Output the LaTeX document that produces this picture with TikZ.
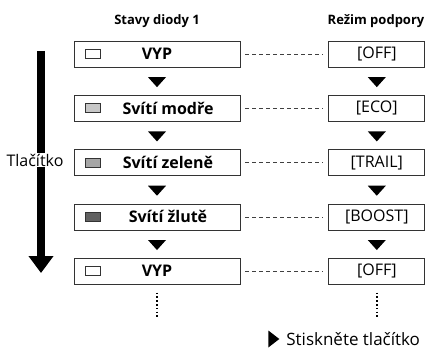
\documentclass[tikz,border=0pt]{standalone}
\usepackage{fontspec}
\setmainfont{Open Sans}
\usepackage{tikz}
\usetikzlibrary{shapes.geometric, arrows.meta, positioning}

\begin{document}
\begin{tikzpicture}[
  x=1pt, y=1pt,
  node distance=27.5pt and 88pt,
  statebox/.style={rectangle, draw=black!80, line width=0.8pt,
                   minimum width=166pt, minimum height=26pt, inner sep=0pt,
                   font=\fontsize{16}{18}\selectfont\bfseries},
  modebox/.style={statebox, minimum width=96pt,
                  font=\fontsize{16}{18}\selectfont},
  head/.style={font=\fontsize{13}{15}\selectfont\bfseries},
  led/.style={rectangle, draw=black!80, line width=0.7pt,
              minimum width=15pt, minimum height=9pt, inner sep=0pt},
  tri/.style={isosceles triangle, isosceles triangle stretches,
              shape border rotate=-90, fill=black, inner sep=0pt,
              minimum width=18pt, minimum height=10pt},
  link/.style={draw=black!75, line width=0.7pt, dash pattern=on 4pt off 3pt},
  more/.style={line width=2.2pt, dash pattern=on 1.6pt off 2.2pt}
]
\useasboundingbox (0,0) rectangle (426,-353);

% column heads
\node[head] (hl) at (157,-21) {Stavy diody 1};
\node[head] (hr) at (376,-21) {Režim podpory};

% led states
\node[statebox] (l1) at (157,-54) {VYP};
\node[statebox, below=of l1] (l2) {\hspace*{22pt}Svítí modře};
\node[statebox, below=of l2] (l3) {\hspace*{22pt}Svítí zeleně};
\node[statebox, below=of l3] (l4) {\hspace*{22pt}Svítí žlutě};
\node[statebox, below=of l4] (l5) {VYP};

\node[led, fill=white]    (s1) at ([xshift=19pt]l1.west) {};
\node[led, fill=black!22] (s2) at ([xshift=19pt]l2.west) {};
\node[led, fill=black!35] (s3) at ([xshift=19pt]l3.west) {};
\node[led, fill=black!62] (s4) at ([xshift=19pt]l4.west) {};
\node[led, fill=white]    (s5) at ([xshift=19pt]l5.west) {};

% assist modes
\node[modebox, right=of l1] (r1) {[OFF]};
\node[modebox, below=of r1] (r2) {[ECO]};
\node[modebox, below=of r2] (r3) {[TRAIL]};
\node[modebox, below=of r3] (r4) {[BOOST]};
\node[modebox, below=of r4] (r5) {[OFF]};

\foreach \i in {1,...,5}
  \draw[link] ([xshift=5pt]l\i.east) -- ([xshift=-5pt]r\i.west);

% steps
\path (l1) -- (l2) node[tri, midway] (tl1) {};
\path (l2) -- (l3) node[tri, midway] (tl2) {};
\path (l3) -- (l4) node[tri, midway] (tl3) {};
\path (l4) -- (l5) node[tri, midway] (tl4) {};
\path (r1) -- (r2) node[tri, midway] (tr1) {};
\path (r2) -- (r3) node[tri, midway] (tr2) {};
\path (r3) -- (r4) node[tri, midway] (tr3) {};
\path (r4) -- (r5) node[tri, midway] (tr4) {};

\coordinate[below=8pt of l5]  (ldots);
\coordinate[below=34pt of l5] (ldotsend);
\coordinate[below=8pt of r5]  (rdots);
\coordinate[below=34pt of r5] (rdotsend);
\draw[more] (ldots) -- (ldotsend);
\draw[more] (rdots) -- (rdotsend);

% button arrow
\coordinate (btop) at (41,-51);
\coordinate (bbot) at (41,-273);
\draw[line width=7.3pt, -{Triangle[width=24pt, length=17pt]}] (btop) -- (bbot);
\node[fill=white, inner sep=1pt, font=\fontsize{16}{18}\selectfont] (btn) at (35,-160) {Tlačítko};

% legend
\node[isosceles triangle, isosceles triangle stretches, fill=black,
      inner sep=0pt, minimum width=17pt, minimum height=11pt] (key) at (272.5,-339) {};
\node[right=3pt of key, font=\fontsize{17}{19}\selectfont] (keytext) {Stiskněte tlačítko};
\end{tikzpicture}
\end{document}
